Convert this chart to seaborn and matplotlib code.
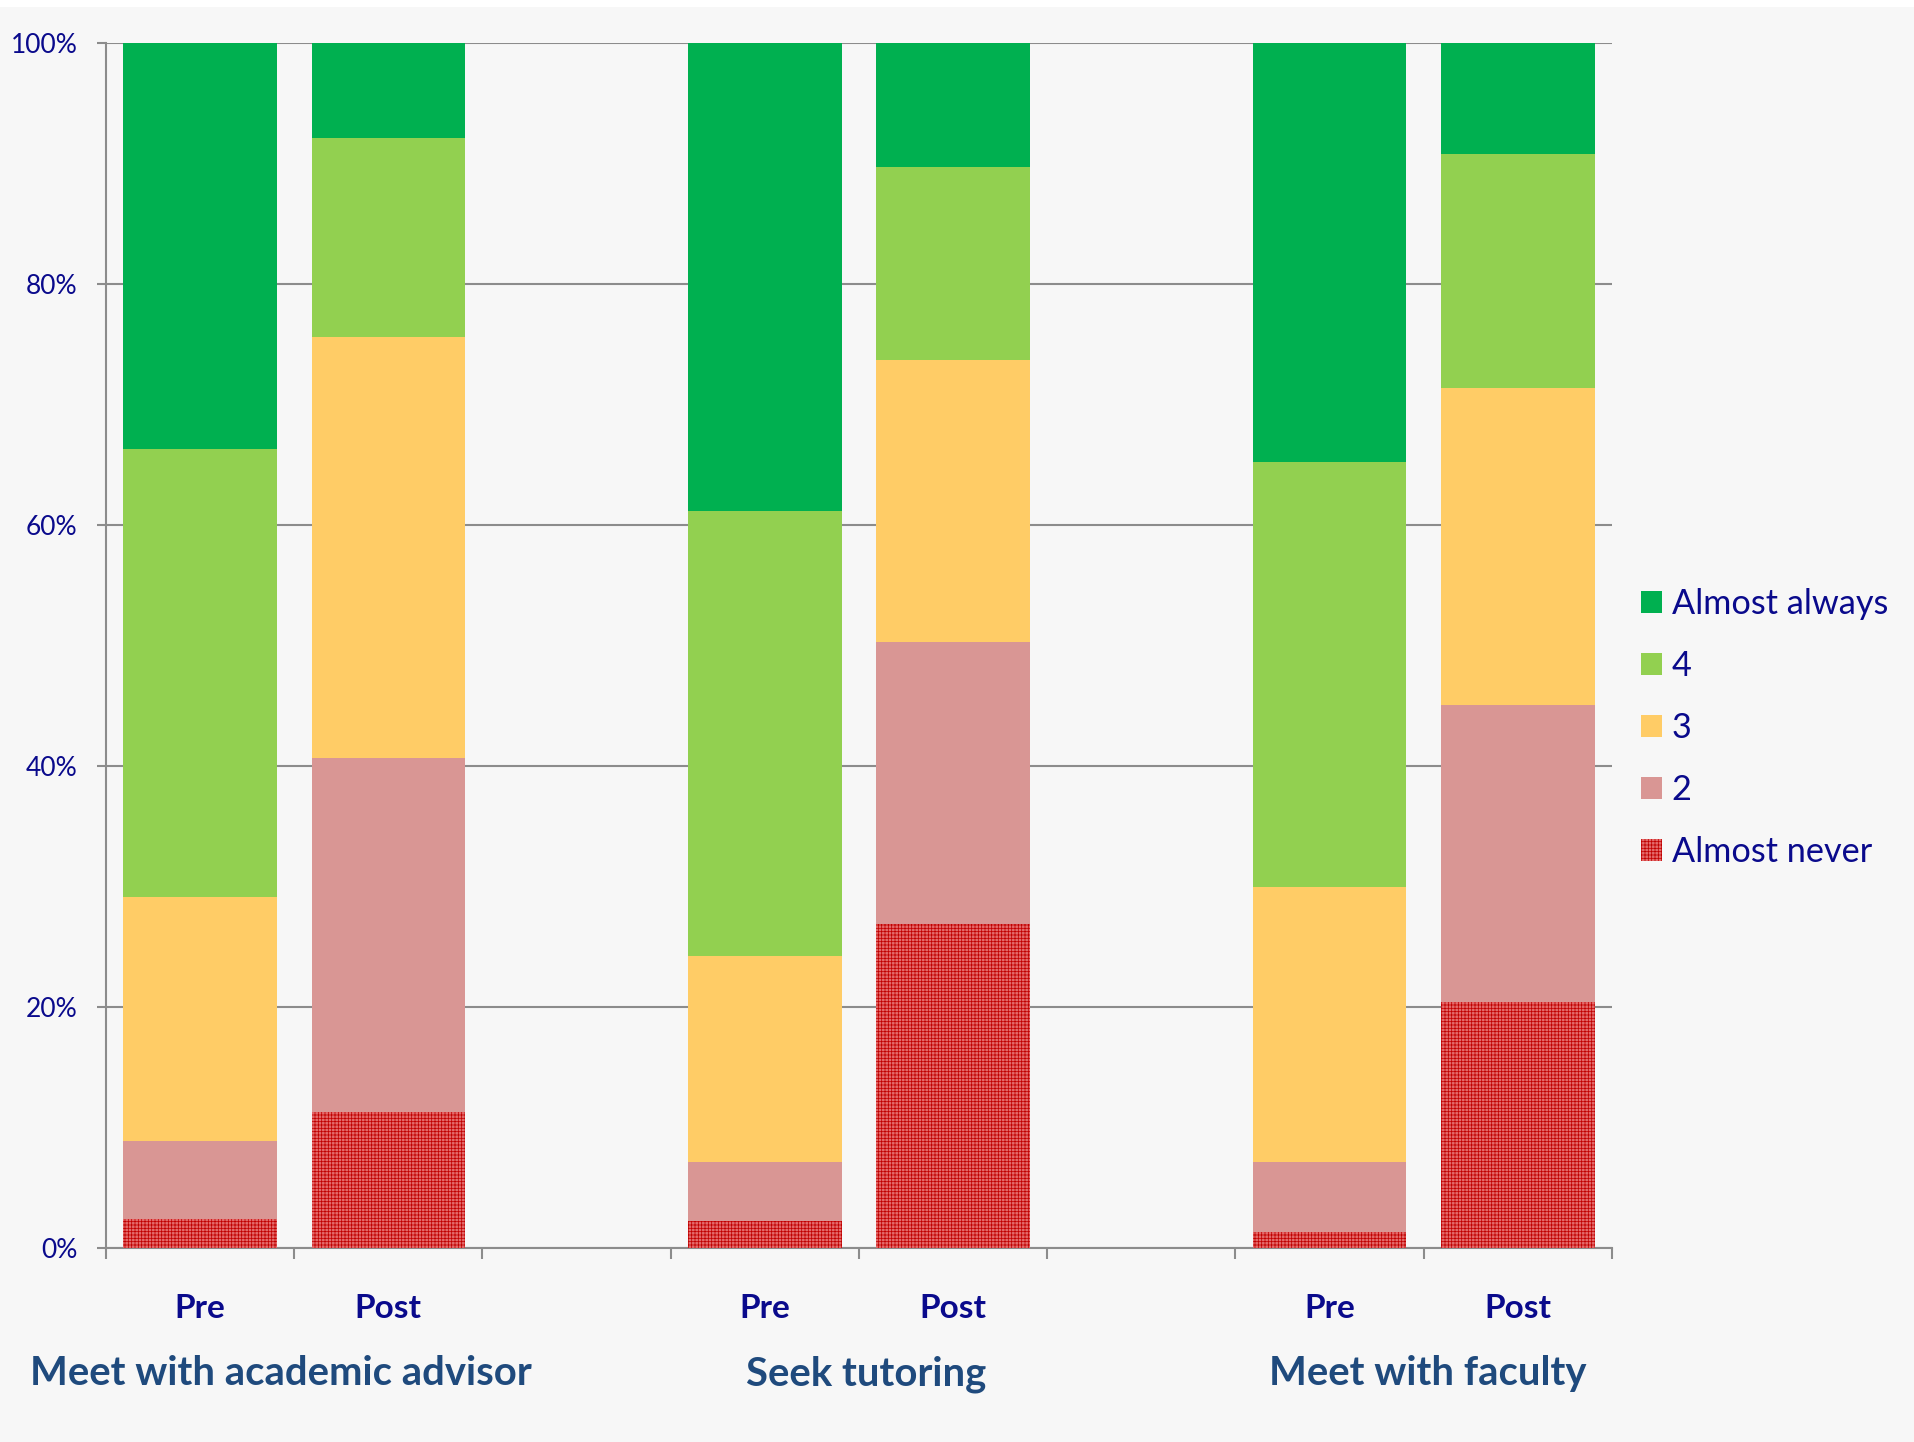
import numpy as np
import pandas as pd
import matplotlib
matplotlib.use("Agg")
import matplotlib.pyplot as plt
from matplotlib.patches import Patch, Rectangle
from matplotlib.ticker import FuncFormatter
import seaborn as sns

# ---- data -------------------------------------------------------------
groups = ["Meet with academic advisor", "Seek tutoring", "Meet with faculty"]
phases = ["Pre", "Post"]
levels = ["Almost always", "4", "3", "2", "Almost never"]

# percentages per bar, order: advisor Pre/Post, tutoring Pre/Post, faculty Pre/Post
almost_never = [2.4, 11.3, 2.2, 26.9, 1.3, 20.4]
two = [6.5, 29.4, 4.9, 23.4, 5.8, 24.7]
three = [20.2, 34.9, 17.1, 23.4, 22.9, 26.3]
four = [37.2, 16.5, 37.0, 16.0, 35.2, 19.4]
almost_always = [33.7, 7.9, 38.8, 10.3, 34.8, 9.2]

y_ticks = [0, 20, 40, 60, 80, 100]

# ---- styling ----------------------------------------------------------
sns.set_style("white")
plt.rcParams["font.family"] = ["Lato", "DejaVu Sans"]
plt.rcParams["hatch.linewidth"] = 0.55

BG = "#F7F7F7"
GRID = "#8C8C8C"
NAVY = "#0A0A8C"
STEEL = "#1F4A7D"
colors = {
    "Almost always": "#00B050",
    "4": "#92D050",
    "3": "#FFCC66",
    "2": "#D99694",
    "Almost never": "#E46A6A",
}
HATCH_COLOR = "#C00000"

# ---- long table with stacked (cumulative) heights ----------------------
series = {
    "Almost never": almost_never,
    "2": two,
    "3": three,
    "4": four,
    "Almost always": almost_always,
}
stack_order = ["Almost never", "2", "3", "4", "Almost always"]
rows = []
for i in range(len(groups) * len(phases)):
    g, p = divmod(i, len(phases))
    pos = g * 3 + p
    cum = 0.0
    for lvl in stack_order:
        cum += series[lvl][i]
        rows.append({"pos": pos, "group": groups[g], "phase": phases[p],
                     "level": lvl, "top": cum})
df = pd.DataFrame(rows)

# ---- figure -----------------------------------------------------------
W, H, DPI = 1915, 1442, 100
fig = plt.figure(figsize=(W / DPI, H / DPI), dpi=DPI, facecolor=BG)
fig.patches.append(Rectangle((0, 1 - 7 / H), 1, 7 / H, transform=fig.transFigure,
                             facecolor="white", edgecolor="none", zorder=0))
ax = fig.add_axes([106 / W, 1 - 1248 / H, (1612 - 106) / W, (1248 - 43) / H])
ax.set_facecolor(BG)

# draw tallest cumulative layer first, then overlay the lower ones
for lvl in reversed(stack_order):
    n0 = len(ax.patches)
    sub = df[df["level"] == lvl]
    sns.barplot(data=sub, x="pos", y="top", native_scale=True, width=0.815,
                color=colors[lvl], saturation=1, errorbar=None, linewidth=0,
                ax=ax, zorder=3)
    if lvl == "Almost never":
        for patch in ax.patches[n0:]:
            patch.set_hatch("+++++")
            patch.set_edgecolor(HATCH_COLOR)
            patch.set_linewidth(0)

# axes
ax.set_xlim(-0.5, 7.5)
ax.set_ylim(0, 100)
ax.set_yticks(y_ticks)
ax.yaxis.set_major_formatter(FuncFormatter(lambda v, _: f"{v:.0f}%"))
ax.set_xticks(np.arange(-0.5, 8, 1.0))
ax.set_xticklabels([])
ax.set_xlabel("")
ax.set_ylabel("")
ax.set_axisbelow(True)
ax.yaxis.grid(True, color=GRID, linewidth=1.5)
ax.xaxis.grid(False)
for side in ["top", "right"]:
    ax.spines[side].set_visible(False)
for side in ["left", "bottom"]:
    ax.spines[side].set_color(GRID)
    ax.spines[side].set_linewidth(1.5)
ax.tick_params(axis="y", which="major", direction="out", length=6.5, width=1.5,
               color=GRID, pad=14, labelsize=19, labelcolor=NAVY, left=True)
ax.tick_params(axis="x", which="major", direction="out", length=8, width=1.5,
               color=GRID, bottom=True)

# category labels below the axis
trans = ax.get_xaxis_transform()
group_label_shift = [-0.07, 0.04, 0.02]
for g, grp in enumerate(groups):
    for p, ph in enumerate(phases):
        ax.text(g * 3 + p, -0.0581, ph, transform=trans, ha="center", va="baseline",
                fontsize=24, fontweight="bold", color=NAVY)
    ax.text(g * 3 + 0.5 + group_label_shift[g], -0.1137, grp, transform=trans,
            ha="center", va="baseline", fontsize=28.8, fontweight="bold", color=STEEL)

# legend
handles = []
for lvl in levels:
    if lvl == "Almost never":
        handles.append(Patch(facecolor=colors[lvl], edgecolor=HATCH_COLOR,
                             hatch="+++++", linewidth=0, label=lvl))
    else:
        handles.append(Patch(facecolor=colors[lvl], edgecolor="none", label=lvl))
leg = fig.legend(handles=handles, loc="center left",
                 bbox_to_anchor=(1641 / W, 1 - 728 / H), frameon=False,
                 fontsize=24.7, handlelength=0.61, handleheight=0.61,
                 handletextpad=0.29, labelspacing=0.88, borderpad=0, borderaxespad=0)
for t in leg.get_texts():
    t.set_color(NAVY)

fig.savefig("out.png", dpi=DPI, facecolor=BG)
